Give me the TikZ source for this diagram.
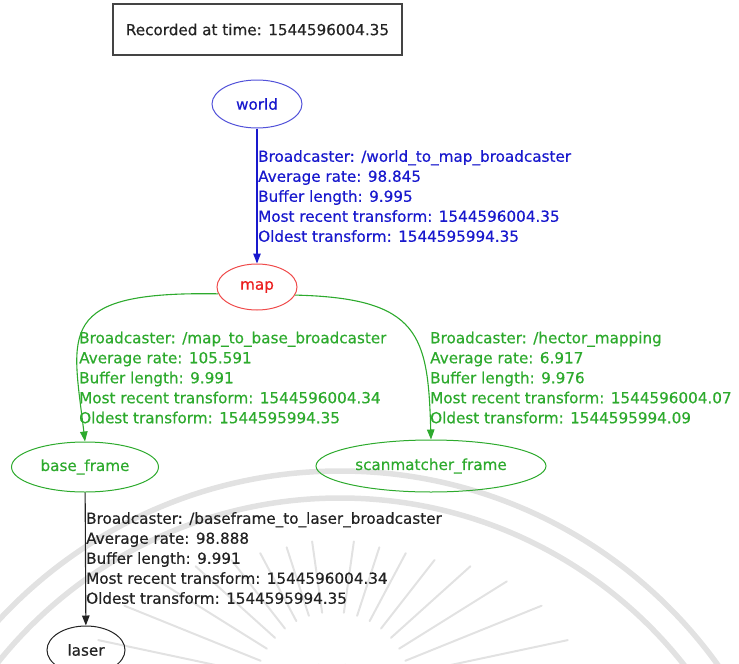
\documentclass[tikz,border=0pt]{standalone}
\usepackage{fontspec}
\setmainfont{DejaVu Sans}
\newfontfamily\tffont[FakeBold=0.5]{DejaVu Sans}
\usetikzlibrary{shapes.geometric,arrows.meta}

\definecolor{tfblue}{RGB}{25,25,205}
\definecolor{tfred}{RGB}{235,30,30}
\definecolor{tfgreen}{RGB}{45,170,45}
\definecolor{tfblack}{RGB}{35,35,35}
\definecolor{seal}{RGB}{226,226,226}

\tikzset{
  frame/.style={ellipse,draw,line width=1pt,inner sep=0pt,font=\fontsize{15.2}{18}\tffont},
  info/.style={anchor=north west,align=left,inner sep=0pt,font=\fontsize{15.2}{20}\tffont},
  tf/.style={line width=1.1pt,-{Triangle[length=10pt,width=7.5pt]}},
}

\begin{document}
\begin{tikzpicture}[x=1pt,y=-1pt]
  \useasboundingbox (0,0) rectangle (739,664);

  % faint seal in the background
  \begin{scope}
    \clip (0,0) rectangle (739,664);
    \draw[seal,line width=5.5pt] (340,936) circle (465);
    \draw[seal,line width=5.5pt] (340,936) circle (438);
    \foreach \a/\r in {-12/240,-22/225,-32/205,-42/185,-52/165,-62/155,-72/150,-82/150,
                       -98/150,-108/150,-118/155,-128/165,-138/185,-148/205,-158/225,-168/240}
      \draw[seal,line width=2pt,line cap=round,shift={(333,690)}] (\a:78) -- (\a:\r);
    \draw[seal,line width=2.5pt] (318,664) arc (180:0:14);
  \end{scope}

  \node[draw=tfblack!85,line width=1.3pt,minimum width=289,minimum height=51,inner sep=0pt,
        font=\fontsize{15.2}{18}\tffont,text=tfblack] (rec) at (257.5,29.5) {Recorded at time: 1544596004.35};

  \node[frame,draw=tfblue!75,text=tfblue,minimum width=90,minimum height=48] (world) at (257,104) {world};
  \node[frame,draw=tfred!80,text=tfred,minimum width=80,minimum height=46] (map) at (257,287) {map};
  \node[frame,draw=tfgreen,text=tfgreen,minimum width=147,minimum height=50] (baseframe) at (85,467) {base\_frame};
  \node[frame,draw=tfgreen,text=tfgreen,minimum width=230,minimum height=52] (scanmatcher) at (431,466) {scanmatcher\_frame};
  \node[frame,draw=tfblack,text=tfblack,minimum width=78,minimum height=48] (laser) at (86,650) {laser};

  \begin{scope}[tf]
    \draw[tfblue] (world) -- (map);
    \draw[tfgreen] (map.190) .. controls (55,291) and (72,332) .. (baseframe.north);
    \draw[tfgreen] (map.-12) .. controls (420,298) and (428,335) .. (scanmatcher.north);
    \draw[tfblack] (baseframe) -- (laser);
  \end{scope}

  \node[info,text=tfblue] (w2m) at (258,150) {Broadcaster: /world\_to\_map\_broadcaster\\
    Average rate: 98.845\\Buffer length: 9.995\\
    Most recent transform: 1544596004.35\\Oldest transform: 1544595994.35};
  \node[info,text=tfgreen] (m2b) at (79,331.5) {Broadcaster: /map\_to\_base\_broadcaster\\
    Average rate: 105.591\\Buffer length: 9.991\\
    Most recent transform: 1544596004.34\\Oldest transform: 1544595994.35};
  \node[info,text=tfgreen] (hector) at (430,331.5) {Broadcaster: /hector\_mapping\\
    Average rate: 6.917\\Buffer length: 9.976\\
    Most recent transform: 1544596004.07\\Oldest transform: 1544595994.09};
  \node[info,text=tfblack] (b2l) at (86,512) {Broadcaster: /baseframe\_to\_laser\_broadcaster\\
    Average rate: 98.888\\Buffer length: 9.991\\
    Most recent transform: 1544596004.34\\Oldest transform: 1544595994.35};
\end{tikzpicture}
\end{document}
